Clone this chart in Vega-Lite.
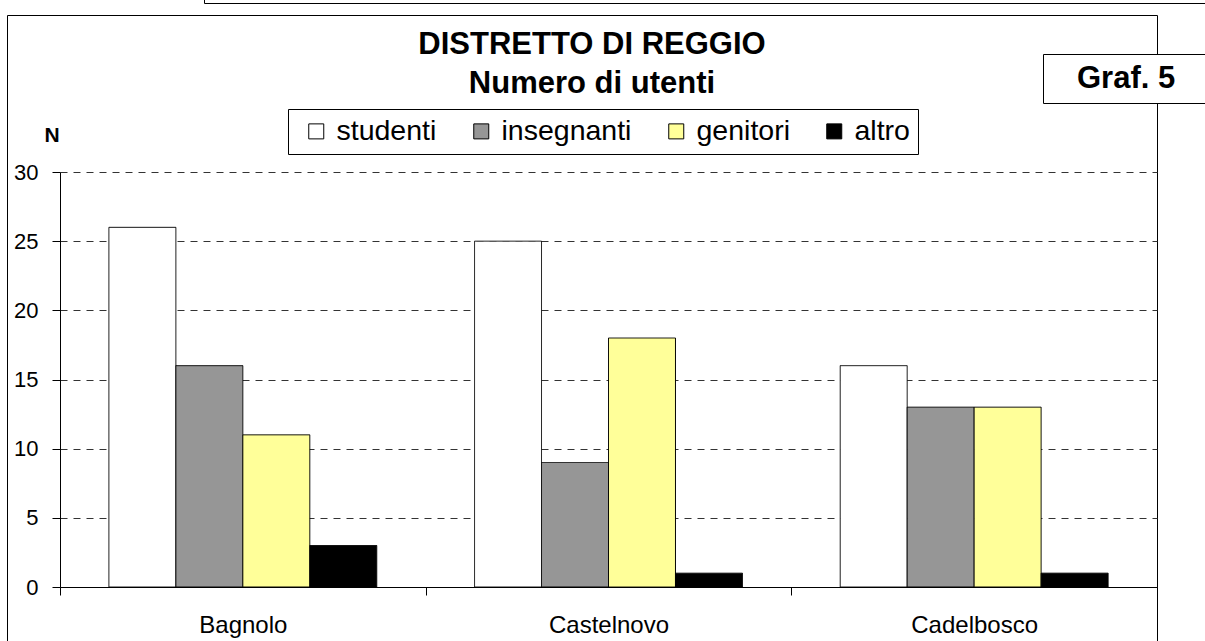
{
  "$schema": "https://vega.github.io/schema/vega-lite/v6.json",
  "autosize": {"type": "none"},
  "padding": {"left": 7, "top": 15, "right": 48, "bottom": -1},
  "width": 1150,
  "height": 627,
  "background": "white",
  "view": {"stroke": "black", "strokeWidth": 1, "fill": "white"},
  "config": {"font": "Liberation Sans"},
  "title": {
    "text": ["DISTRETTO DI REGGIO", "Numero di utenti"],
    "font": "Liberation Sans",
    "fontSize": 31,
    "fontWeight": "bold",
    "color": "black",
    "anchor": "middle",
    "frame": "group",
    "baseline": "alphabetic",
    "lineHeight": 39.5,
    "offset": -135.5,
    "dx": 10
  },
  "data": {
    "values": [
      {"comune": "Bagnolo", "categoria": "studenti", "N": 26},
      {"comune": "Bagnolo", "categoria": "insegnanti", "N": 16},
      {"comune": "Bagnolo", "categoria": "genitori", "N": 11},
      {"comune": "Bagnolo", "categoria": "altro", "N": 3},
      {"comune": "Castelnovo", "categoria": "studenti", "N": 25},
      {"comune": "Castelnovo", "categoria": "insegnanti", "N": 9},
      {"comune": "Castelnovo", "categoria": "genitori", "N": 18},
      {"comune": "Castelnovo", "categoria": "altro", "N": 1},
      {"comune": "Cadelbosco", "categoria": "studenti", "N": 16},
      {"comune": "Cadelbosco", "categoria": "insegnanti", "N": 13},
      {"comune": "Cadelbosco", "categoria": "genitori", "N": 13},
      {"comune": "Cadelbosco", "categoria": "altro", "N": 1}
    ]
  },
  "mark": {"type": "bar", "stroke": "black", "strokeWidth": 1},
  "encoding": {
    "x": {
      "field": "comune",
      "type": "nominal",
      "sort": ["Bagnolo", "Castelnovo", "Cadelbosco"],
      "scale": {"range": [53, 1150], "paddingInner": 0, "paddingOuter": 0},
      "axis": {
        "title": null,
        "orient": "bottom",
        "offset": -55,
        "labelAngle": 0,
        "labelFontSize": 24,
        "labelColor": "black",
        "labelPadding": 18,
        "tickSize": 8,
        "tickColor": "black",
        "tickBand": "extent",
        "domainColor": "black",
        "grid": false
      }
    },
    "xOffset": {
      "field": "categoria",
      "type": "nominal",
      "sort": ["studenti", "insegnanti", "genitori", "altro"],
      "scale": {"paddingInner": 0, "paddingOuter": 0.73}
    },
    "y": {
      "field": "N",
      "type": "quantitative",
      "scale": {"domain": [0, 30], "nice": false, "range": [572, 157]},
      "axis": {
        "title": "N",
        "titleAngle": 0,
        "titleFontSize": 21,
        "titleFontWeight": "bold",
        "titleColor": "black",
        "titleAlign": "center",
        "titleBaseline": "middle",
        "titleX": -8.5,
        "titleY": 120,
        "offset": -53,
        "values": [0, 5, 10, 15, 20, 25, 30],
        "labelFontSize": 22,
        "labelColor": "black",
        "labelPadding": 14,
        "tickSize": 8,
        "tickColor": "black",
        "domainColor": "black",
        "grid": true,
        "gridColor": "#333333",
        "gridDash": [7, 6],
        "gridWidth": 1
      }
    },
    "color": {
      "field": "categoria",
      "type": "nominal",
      "scale": {
        "domain": ["studenti", "insegnanti", "genitori", "altro"],
        "range": ["#FFFFFF", "#969696", "#FFFF99", "#000000"]
      },
      "legend": {
        "title": null,
        "orient": "none",
        "legendX": 281,
        "legendY": 94,
        "direction": "horizontal",
        "strokeColor": "black",
        "fillColor": "white",
        "padding": 8,
        "symbolType": "square",
        "symbolSize": 225,
        "symbolStrokeColor": "black",
        "symbolStrokeWidth": 1,
        "symbolOffset": 6,
        "labelFontSize": 28.5,
        "labelColor": "black",
        "labelOffset": 6,
        "columnPadding": 24
      }
    },
    "strokeDash": {
      "datum": "Graf. 5",
      "scale": {"range": [[1, 0]]},
      "legend": {
        "title": "MMMMMMMM",
        "titleOrient": "right",
        "titleOpacity": 0,
        "titleFontSize": 10,
        "titlePadding": 0,
        "orient": "none",
        "legendX": 1036,
        "legendY": 39,
        "strokeColor": "black",
        "fillColor": "white",
        "padding": 9,
        "symbolOpacity": 0,
        "symbolStrokeWidth": 0,
        "symbolSize": 16,
        "labelFontSize": 31,
        "labelFontWeight": "bold",
        "labelColor": "black",
        "labelOffset": -6,
        "labelLimit": 500
      }
    },
    "strokeWidth": {
      "datum": "bordo",
      "type": "nominal",
      "scale": {"range": [1, 1]},
      "legend": {
        "title": null,
        "orient": "none",
        "legendX": 197,
        "legendY": -26,
        "strokeColor": "black",
        "fillColor": "white",
        "padding": 2,
        "symbolOpacity": 0,
        "symbolStrokeWidth": 0,
        "symbolSize": 1,
        "labelFontSize": 10,
        "labelColor": "white",
        "labelOpacity": 0,
        "labelLimit": 3000,
        "labelExpr": "pad('', 160, 'M')"
      }
    }
  }
}
